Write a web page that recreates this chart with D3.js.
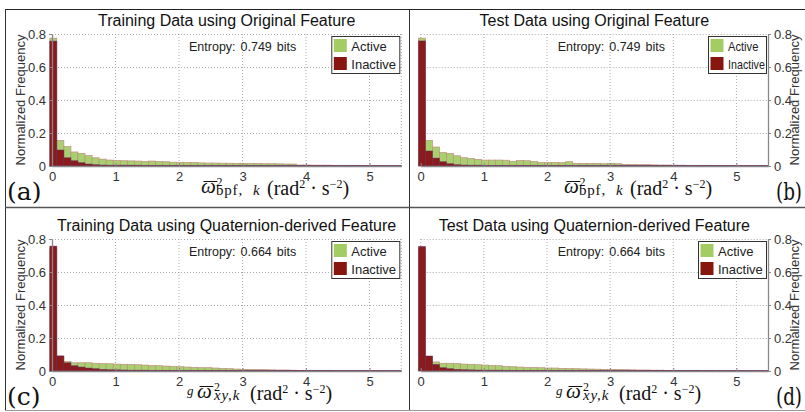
<!DOCTYPE html>
<html>
<head>
<style>
body{margin:0;background:#fff;}
svg text{font-family:"Liberation Sans",Arial,sans-serif;}
</style>
<script src="https://d3js.org/d3.v7.min.js"></script>
</head>
<body>
<script>
// histogram bins: 50 bins of equal width starting just left of 0
const binStart = -0.035, binWidth = 0.111;
const xTicks = [0, 1, 2, 3, 4, 5];
const yTicks = [0, 0.2, 0.4, 0.6, 0.8];
const titles = ["Training Data using Original Feature", "Test Data using Original Feature",
                "Training Data using Quaternion-derived Feature", "Test Data using Quaternion-derived Feature"];
const entropies = ["0.749", "0.749", "0.664", "0.664"];
const letters = ["(a)", "(b)", "(c)", "(d)"];
const legendLabels = ["Active", "Inactive"];

const activeA = [0.775,0.155,0.118,0.085,0.077,0.063,0.05,0.042,0.036,0.033,
  0.032,0.031,0.03,0.028,0.03,0.028,0.026,0.023,0.022,0.021,
  0.022,0.019,0.018,0.018,0.017,0.017,0.016,0.016,0.015,0.015,
  0.014,0.014,0.013,0.012,0.012,0.006,0.006,0.005,0.005,0.005,
  0.004,0.004,0.004,0.003,0.003,0.003,0.003,0.002,0.002,0.002];
const inactiveA = [0.757,0.097,0.05,0.032,0.02,0.012,0.008,0.006,0.005,0.005,
  0.005,0.005,0.005,0.004,0.004,0.004,0.004,0.004,0.004,0.004,
  0.004,0.004,0.004,0.004,0.004,0.004,0.004,0.004,0.004,0.004,
  0.004,0.004,0.004,0.004,0.004,0.004,0.004,0.004,0.004,0.004,
  0.004,0.004,0.004,0.004,0.003,0.003,0.003,0.003,0.003,0.003];

const activeB = [0.775,0.155,0.115,0.082,0.076,0.062,0.05,0.046,0.04,0.036,
  0.036,0.036,0.035,0.028,0.034,0.032,0.028,0.022,0.022,0.022,
  0.02,0.026,0.016,0.016,0.016,0.016,0.014,0.016,0.014,0.01,
  0.009,0.008,0.008,0.007,0.006,0.006,0.005,0.005,0.004,0.004,
  0.004,0.003,0.003,0.003,0.003,0.002,0.002,0.002,0.002,0.002];
const inactiveB = [0.758,0.091,0.048,0.026,0.014,0.008,0.006,0.005,0.005,0.004,
  0.004,0.004,0.004,0.004,0.004,0.004,0.004,0.004,0.004,0.004,
  0.004,0.004,0.004,0.004,0.004,0.004,0.004,0.004,0.004,0.004,
  0.004,0.004,0.004,0.004,0.004,0.004,0.004,0.004,0.004,0.004,
  0.004,0.004,0.003,0.003,0.003,0.003,0.003,0.003,0.003,0.003];

const activeC = [0.74,0.088,0.057,0.05,0.05,0.05,0.047,0.045,0.044,0.042,
  0.04,0.04,0.038,0.036,0.033,0.032,0.03,0.028,0.026,0.024,
  0.022,0.02,0.02,0.018,0.016,0.014,0.012,0.01,0.009,0.008,
  0.008,0.007,0.006,0.006,0.005,0.004,0.004,0.003,0.003,0.003,
  0.003,0.002,0.002,0.002,0.002,0.002,0.002,0.001,0.001,0.001];
const inactiveC = [0.757,0.092,0.05,0.032,0.024,0.018,0.014,0.01,0.008,0.007,
  0.006,0.005,0.005,0.005,0.004,0.004,0.004,0.004,0.004,0.004,
  0.004,0.004,0.004,0.004,0.004,0.004,0.004,0.004,0.004,0.004,
  0.004,0.004,0.004,0.004,0.004,0.004,0.004,0.004,0.004,0.004,
  0.003,0.003,0.003,0.003,0.003,0.003,0.003,0.003,0.003,0.003];

const activeD = [0.74,0.089,0.055,0.047,0.047,0.045,0.042,0.04,0.038,0.036,
  0.034,0.032,0.028,0.026,0.024,0.022,0.022,0.02,0.018,0.018,
  0.016,0.015,0.014,0.013,0.012,0.011,0.01,0.009,0.008,0.008,
  0.007,0.006,0.006,0.005,0.005,0.004,0.004,0.004,0.003,0.003,
  0.003,0.003,0.002,0.002,0.002,0.002,0.002,0.001,0.001,0.001];
const inactiveD = [0.755,0.091,0.04,0.02,0.014,0.01,0.008,0.007,0.006,0.005,
  0.005,0.005,0.004,0.004,0.004,0.004,0.004,0.004,0.004,0.004,
  0.004,0.004,0.004,0.004,0.004,0.004,0.004,0.004,0.004,0.004,
  0.004,0.004,0.004,0.004,0.004,0.004,0.004,0.004,0.004,0.004,
  0.003,0.003,0.003,0.003,0.003,0.003,0.003,0.003,0.003,0.003];

const W = 805, H = 412;
const GREEN = "#a8d06e", RED = "#8b1a1a";

const svg = d3.select("body").append("svg").attr("width", W).attr("height", H);

// panel frames
const frame = svg.append("g").attr("fill", "none");
frame.append("line").attr("x1", 5.5).attr("x2", W).attr("y1", 9.5).attr("y2", 9.5).attr("stroke", "#222");
frame.append("line").attr("x1", 5.5).attr("x2", 5.5).attr("y1", 9).attr("y2", 411).attr("stroke", "#333");
frame.append("line").attr("x1", 409.5).attr("x2", 409.5).attr("y1", 9).attr("y2", 411).attr("stroke", "#333");
frame.append("line").attr("x1", 5).attr("x2", W).attr("y1", 207.5).attr("y2", 207.5).attr("stroke", "#555").attr("stroke-width", 1.3);
frame.append("line").attr("x1", 5).attr("x2", W).attr("y1", 410.5).attr("y2", 410.5).attr("stroke", "#999");

const panels = [
  {title: titles[0], ent: entropies[0], letter: letters[0], active: activeA, inactive: inactiveA,
   L: 52, R: 401.3, top: 34, bot: 166, side: "left", sub: "bpf", labX: 201, legW: 68, legScale: 1},
  {title: titles[1], ent: entropies[1], letter: letters[1], active: activeB, inactive: inactiveB,
   L: 420.7, R: 768, top: 34, bot: 166, side: "right", sub: "bpf", labX: 564, legW: 58, legScale: 0.82},
  {title: titles[2], ent: entropies[2], letter: letters[2], active: activeC, inactive: inactiveC,
   L: 52, R: 401.3, top: 239, bot: 371, side: "left", sub: "xy", labX: 197, legW: 68, legScale: 1},
  {title: titles[3], ent: entropies[3], letter: letters[3], active: activeD, inactive: inactiveD,
   L: 420.7, R: 768, top: 239, bot: 371, side: "right", sub: "xy", labX: 566, legW: 68, legScale: 1}
];

panels.forEach((p, pi) => {
  const x = d3.scaleLinear().domain([0, 5.5]).range([p.L, p.R]);
  const y = d3.scaleLinear().domain([0, 0.8]).range([p.bot, p.top]);
  const g = svg.append("g");

  // dotted grid
  const grid = g.append("g").attr("stroke", "#aaa").attr("stroke-dasharray", "1,2").attr("stroke-width", 1);
  grid.selectAll(".gy").data(yTicks.filter(d => d > 0)).enter().append("line")
    .attr("x1", p.L).attr("x2", p.R).attr("y1", d => y(d) + 0.5).attr("y2", d => y(d) + 0.5);
  grid.selectAll(".gx").data(xTicks.filter(d => d > 0)).enter().append("line")
    .attr("y1", p.top).attr("y2", p.bot).attr("x1", d => x(d)).attr("x2", d => x(d));
  const edgeX = p.side === "left" ? p.R : p.L;
  grid.append("line").attr("x1", edgeX).attr("x2", edgeX).attr("y1", p.top).attr("y2", p.bot);

  // bars
  const bins = (arr) => arr.map((v, i) => {
    const a = binStart + i * binWidth;
    return {x0: a, x1: Math.min(a + binWidth, 5.5), v: v};
  }).filter(d => d.x0 < 5.5);
  g.append("g").selectAll("rect").data(bins(p.active)).enter().append("rect")
    .attr("x", d => x(d.x0)).attr("width", d => x(d.x1) - x(d.x0))
    .attr("y", d => y(d.v)).attr("height", d => y(0) - y(d.v))
    .attr("fill", GREEN).attr("stroke", "#c09080").attr("stroke-width", 0.7);
  g.append("g").selectAll("rect").data(bins(p.inactive)).enter().append("rect")
    .attr("x", d => x(d.x0)).attr("width", d => x(d.x1) - x(d.x0))
    .attr("y", d => y(d.v)).attr("height", d => y(0) - y(d.v))
    .attr("fill", RED).attr("stroke", "#5a2a70").attr("stroke-opacity", 0.6).attr("stroke-width", 0.7);

  // axes
  const yAxis = (p.side === "left" ? d3.axisLeft(y) : d3.axisRight(y))
    .tickValues(yTicks).tickSizeInner(3).tickSizeOuter(0).tickPadding(3)
    .tickFormat(d => d === 0 ? "0" : d3.format(".1f")(d));
  const ya = g.append("g").attr("transform", `translate(${p.side === "left" ? p.L : p.R},0)`).call(yAxis);
  const xa = g.append("g").attr("transform", `translate(0,${p.bot})`)
    .call(d3.axisBottom(x).tickValues(xTicks).tickFormat(d3.format("d"))
      .tickSizeInner(-3).tickSizeOuter(0).tickPadding(6));
  [ya, xa].forEach(a => {
    a.select(".domain").attr("stroke", "#888").attr("stroke-width", 1.3);
    a.selectAll(".tick line").attr("stroke", "#888");
    a.selectAll(".tick text").attr("fill", "#333").style("font-size", "13px")
      .style("font-family", '"Liberation Sans", Arial, sans-serif');
  });

  // y label
  g.append("text")
    .attr("transform", `translate(${p.side === "left" ? 25 : 799},${(p.top + p.bot) / 2}) rotate(-90)`)
    .attr("text-anchor", "middle").attr("fill", "#333").style("font-size", "13px")
    .text("Normalized Frequency");

  // title
  g.append("text").attr("x", (p.L + p.R) / 2).attr("y", p.top - 8)
    .attr("text-anchor", "middle").attr("fill", "#111").style("font-size", "16px").text(p.title);

  // entropy
  g.append("text").attr("x", p.L + 137).attr("y", p.top + 16.5)
    .attr("fill", "#222").style("font-size", "12.5px").style("word-spacing", "1.5px")
    .text("Entropy: " + p.ent + " bits");

  // legend
  const lg = g.append("g").attr("transform", `translate(${p.R - 2 - p.legW},${p.top + 2})`);
  lg.append("rect").attr("x", 0.5).attr("y", 0.5).attr("width", p.legW).attr("height", 37)
    .attr("fill", "#fff").attr("stroke", "#333");
  legendLabels.forEach((lab, i) => {
    lg.append("rect").attr("x", 2.5).attr("y", 3 + i * 18).attr("width", 13).attr("height", 13)
      .attr("fill", i === 0 ? "#a3cd62" : "#87160f");
    const t = lg.append("text").attr("x", 20).attr("y", 14.5 + i * 18)
      .attr("fill", "#222").style("font-size", "13px").text(lab);
    if (p.legScale !== 1) {
      t.attr("textLength", (i === 0 ? 37 : 45) * p.legScale).attr("lengthAdjust", "spacingAndGlyphs");
    }
  });

  // x label (math), laid out piece by piece from the omega position
  const ly = p.bot + 27, ox = p.labX, xy = p.sub === "xy";
  const t = g.append("text").attr("fill", "#111")
    .style("font-family", '"Liberation Serif", "DejaVu Serif", serif').style("font-size", "20px");
  let omegaIdx = 0;
  if (xy) {
    t.append("tspan").attr("x", ox - 10).attr("y", ly - 3).text("g")
      .style("font-style", "italic").style("font-size", "13px");
    omegaIdx = 1;
  }
  t.append("tspan").attr("x", ox).attr("y", ly).text("\u03C9")
    .style("font-style", "italic").style("font-size", "21px");
  t.append("tspan").attr("x", ox + (xy ? 17 : 15.5)).attr("y", ly - 7).text("2").style("font-size", "12px");
  if (!xy) {
    t.append("tspan").attr("x", ox + 15).attr("y", ly + 2).text("bpf,")
      .style("font-size", "15px").style("letter-spacing", "0.8px");
    t.append("tspan").attr("x", ox + 52).attr("y", ly + 2).text("k")
      .style("font-size", "15px").style("font-style", "italic");
  } else {
    t.append("tspan").attr("x", ox + 17).attr("y", ly + 2).text("xy,k")
      .style("font-size", "15px").style("font-style", "italic").style("letter-spacing", "0.8px");
  }
  t.append("tspan").attr("x", ox + (xy ? 53 : 66)).attr("y", ly + 2).text("(rad");
  t.append("tspan").text("2").style("font-size", "12px").attr("dy", -7);
  t.append("tspan").text(" \u00B7 s").attr("dy", 7);
  t.append("tspan").text("\u22122").style("font-size", "12px").attr("dy", -7);
  t.append("tspan").text(")").attr("dy", 7);
  // bar over omega
  const ext = t.node().getExtentOfChar(omegaIdx);
  g.append("line").attr("x1", ext.x + 2.5).attr("x2", ext.x + ext.width + 1.5)
    .attr("y1", ly - 11.5).attr("y2", ly - 11.5).attr("stroke", "#111").attr("stroke-width", 1);

  // panel letter
  const lt = g.append("text").attr("x", p.side === "left" ? 7 : 776).attr("y", p.bot + 34)
    .style("font-family", '"DejaVu Serif", serif').style("font-size", "25px").attr("fill", "#111")
    .text(p.letter);
  if (p.side === "right") lt.attr("textLength", 26).attr("lengthAdjust", "spacingAndGlyphs");
});
</script>
</body>
</html>
